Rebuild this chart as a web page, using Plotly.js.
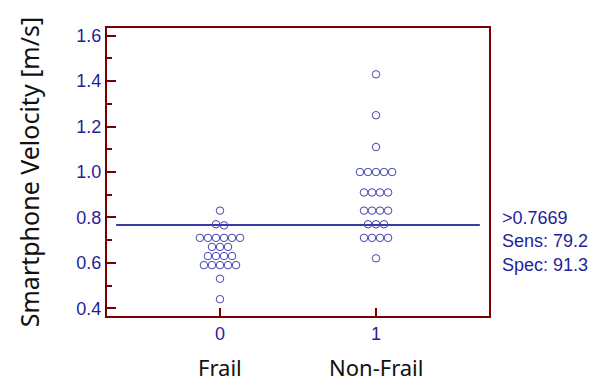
<!DOCTYPE html>
<html>
<head>
<meta charset="utf-8">
<script src="https://cdn.plot.ly/plotly-3.0.1.min.js"></script>
<style>html,body{margin:0;padding:0;background:#fff;}#chart{width:598px;height:385px;}</style>
</head>
<body>
<div id="chart"></div>
<script>
// ---- data ----
var groupCodes = [0, 1];
var groupNames = ["Frail", "Non-Frail"];
var frailValues = [0.83, 0.77, 0.765, 0.71, 0.71, 0.71, 0.71, 0.71, 0.71,
  0.67, 0.67, 0.67, 0.63, 0.63, 0.63, 0.63, 0.59, 0.59, 0.59, 0.59, 0.59, 0.53, 0.44];
var nonFrailValues = [1.43, 1.25, 1.11, 1.00, 1.00, 1.00, 1.00, 1.00,
  0.91, 0.91, 0.91, 0.91, 0.83, 0.83, 0.83, 0.83, 0.77, 0.77, 0.77,
  0.71, 0.71, 0.71, 0.71, 0.62];
var cutoff = 0.7669;
var statsLines = [">0.7669", "Sens: 79.2", "Spec: 91.3"];
var yTickVals = [0.4, 0.6, 0.8, 1.0, 1.2, 1.4, 1.6];

// ---- dot-plot layout: spread equal values side by side ----
function dotPositions(values, center, step) {
  var sorted = values.slice().sort(function(a, b) { return b - a; });
  var rows = [], cur = [];
  sorted.forEach(function(v) {
    if (cur.length && Math.abs(cur[cur.length - 1] - v) > 0.008) { rows.push(cur); cur = []; }
    cur.push(v);
  });
  if (cur.length) rows.push(cur);
  var xs = [], ys = [];
  rows.forEach(function(r) {
    r.forEach(function(v, i) {
      xs.push(center + (i - (r.length - 1) / 2) * step);
      ys.push(v);
    });
  });
  return {x: xs, y: ys};
}
var step = 0.0515;
var pF = dotPositions(frailValues, groupCodes[0], step);
var pN = dotPositions(nonFrailValues, groupCodes[1], step);

var markerStyle = {symbol: 'circle-open', size: 7.5, color: '#4444b2', line: {width: 1, color: '#4444b2'}};
var traces = [
  {x: pF.x, y: pF.y, type: 'scatter', mode: 'markers', marker: markerStyle, hoverinfo: 'y', showlegend: false},
  {x: pN.x, y: pN.y, type: 'scatter', mode: 'markers', marker: markerStyle, hoverinfo: 'y', showlegend: false}
];

var axisRed = '#7a0000';
var navy = '#1f1f9a';
var layout = {
  width: 598, height: 385,
  margin: {l: 107, r: 109, t: 28, b: 69},
  paper_bgcolor: '#ffffff', plot_bgcolor: '#ffffff',
  showlegend: false,
  xaxis: {
    range: [-0.724, 1.724], tickvals: groupCodes, ticktext: groupCodes.map(String),
    ticks: 'inside', ticklen: 8, tickwidth: 2, tickcolor: axisRed,
    showline: true, linecolor: axisRed, linewidth: 2, mirror: true,
    showgrid: false, zeroline: false,
    tickfont: {family: 'Liberation Sans, Arial, sans-serif', size: 18, color: navy}
  },
  yaxis: {
    range: [0.366, 1.634], tickvals: yTickVals, tickformat: '.1f',
    ticks: 'inside', ticklen: 9, tickwidth: 2, tickcolor: axisRed,
    minor: {dtick: 0.1, tick0: 0.4, ticks: 'inside', ticklen: 5, tickwidth: 2, tickcolor: axisRed, showgrid: false},
    showline: true, linecolor: axisRed, linewidth: 2, mirror: true,
    showgrid: false, zeroline: false,
    tickfont: {family: 'Liberation Sans, Arial, sans-serif', size: 18, color: navy},
    title: {text: 'Smartphone Velocity [m/s]', standoff: 30,
      font: {family: 'Noto Sans, sans-serif', size: 25, color: '#111111'}}
  },
  shapes: [
    {type: 'line', xref: 'paper', yref: 'y', x0: 0.024, x1: 0.976, y0: cutoff, y1: cutoff,
     line: {color: '#3a3aa8', width: 2}}
  ],
  annotations: [
    {xref: 'paper', yref: 'paper', x: 1.029, y: 0.2604, xanchor: 'left', yanchor: 'middle', align: 'left',
     showarrow: false, text: statsLines.join('<br>'),
     font: {family: 'Liberation Sans, Arial, sans-serif', size: 18, color: navy}},
    {xref: 'x', yref: 'paper', x: groupCodes[0], y: -0.178, xanchor: 'center', yanchor: 'middle',
     showarrow: false, text: groupNames[0], font: {family: 'Noto Sans, sans-serif', size: 22, color: '#111111'}},
    {xref: 'x', yref: 'paper', x: groupCodes[1], y: -0.178, xanchor: 'center', yanchor: 'middle',
     showarrow: false, text: groupNames[1], font: {family: 'Noto Sans, sans-serif', size: 22, color: '#111111'}}
  ]
};

Plotly.newPlot('chart', traces, layout, {displayModeBar: false, staticPlot: true});
</script>
</body>
</html>
